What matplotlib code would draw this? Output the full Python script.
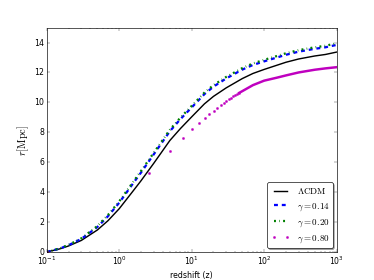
import matplotlib
matplotlib.use("Agg")
import matplotlib.pyplot as plt

z = [0.1, 0.15, 0.2, 0.3, 0.5, 0.7, 1.0, 1.5, 2.0, 3.0, 5.0, 7.0, 10.0, 15.0,
     20.0, 30.0, 50.0, 70.0, 100.0, 200.0, 300.0, 500.0, 700.0, 1000.0]

r_lcdm = [0.0, 0.20, 0.40, 0.77, 1.47, 2.09, 2.89, 3.98, 4.76, 5.93, 7.45, 8.25,
          9.03, 9.90, 10.40, 10.97, 11.59, 11.93, 12.20, 12.68, 12.90, 13.10,
          13.20, 13.36]
r_g014 = [0.0, 0.22, 0.45, 0.87, 1.67, 2.39, 3.29, 4.48, 5.31, 6.53, 8.07, 8.88,
          9.66, 10.55, 11.05, 11.60, 12.19, 12.50, 12.74, 13.18, 13.39, 13.58,
          13.68, 13.84]
r_g020 = [0.0, 0.23, 0.47, 0.91, 1.73, 2.47, 3.38, 4.57, 5.41, 6.63, 8.17, 8.98,
          9.76, 10.65, 11.15, 11.70, 12.29, 12.60, 12.84, 13.28, 13.49, 13.68,
          13.78, 13.95]

# gamma = 0.80 is sampled linearly in z: separate dots at low z ...
z_g080_pts = [0.1, 2.6, 5.1, 7.6, 10.1, 12.6, 15.1, 17.6, 20.1, 22.6, 25.1, 27.6,
              30.1, 32.6, 35.1, 37.6, 40.1, 42.6, 45.1]
r_g080_pts = [0.0, 5.29, 6.75, 7.61, 8.20, 8.64, 8.96, 9.22, 9.44, 9.63, 9.80,
              9.95, 10.08, 10.20, 10.30, 10.40, 10.48, 10.56, 10.63]
# ... that merge into a thick band at high z
z_g080_band = [45.1, 50.0, 70.0, 100.0, 150.0, 200.0, 300.0, 500.0, 700.0, 1000.0]
r_g080_band = [10.63, 10.75, 11.15, 11.45, 11.65, 11.80, 12.00, 12.18, 12.27, 12.35]

plt.style.use("classic")
plt.rcParams["mathtext.fontset"] = "cm"

fig = plt.figure(figsize=(8, 6), dpi=46.75, facecolor="white")
ax = fig.add_subplot(111)

ax.plot(z, r_lcdm, "k-", lw=2.2, label=r"$\Lambda\mathrm{CDM}$")
ax.plot(z, r_g014, "b--", lw=3.5, label=r"$\gamma=0.14$")
ax.plot(z, r_g020, "g-.", lw=3.5, label=r"$\gamma=0.20$")
ax.plot(z_g080_pts, r_g080_pts, "m.", ms=7, mec="m", label=r"$\gamma=0.80$")
ax.plot(z_g080_band, r_g080_band, "m-", lw=3.8)

ax.set_xscale("log")
ax.set_xlim(0.1, 1000)
ax.set_ylim(0, 15)
ax.set_yticks(range(0, 15, 2))
ax.set_xlabel("redshift (z)")
ax.set_ylabel(r"$r[\mathrm{Mpc}]$", fontsize=16)
ax.legend(loc="lower right", fancybox=True, shadow=True, fontsize=14,
          borderaxespad=0.4)

fig.savefig("out.png", dpi=46.75, facecolor="white")
